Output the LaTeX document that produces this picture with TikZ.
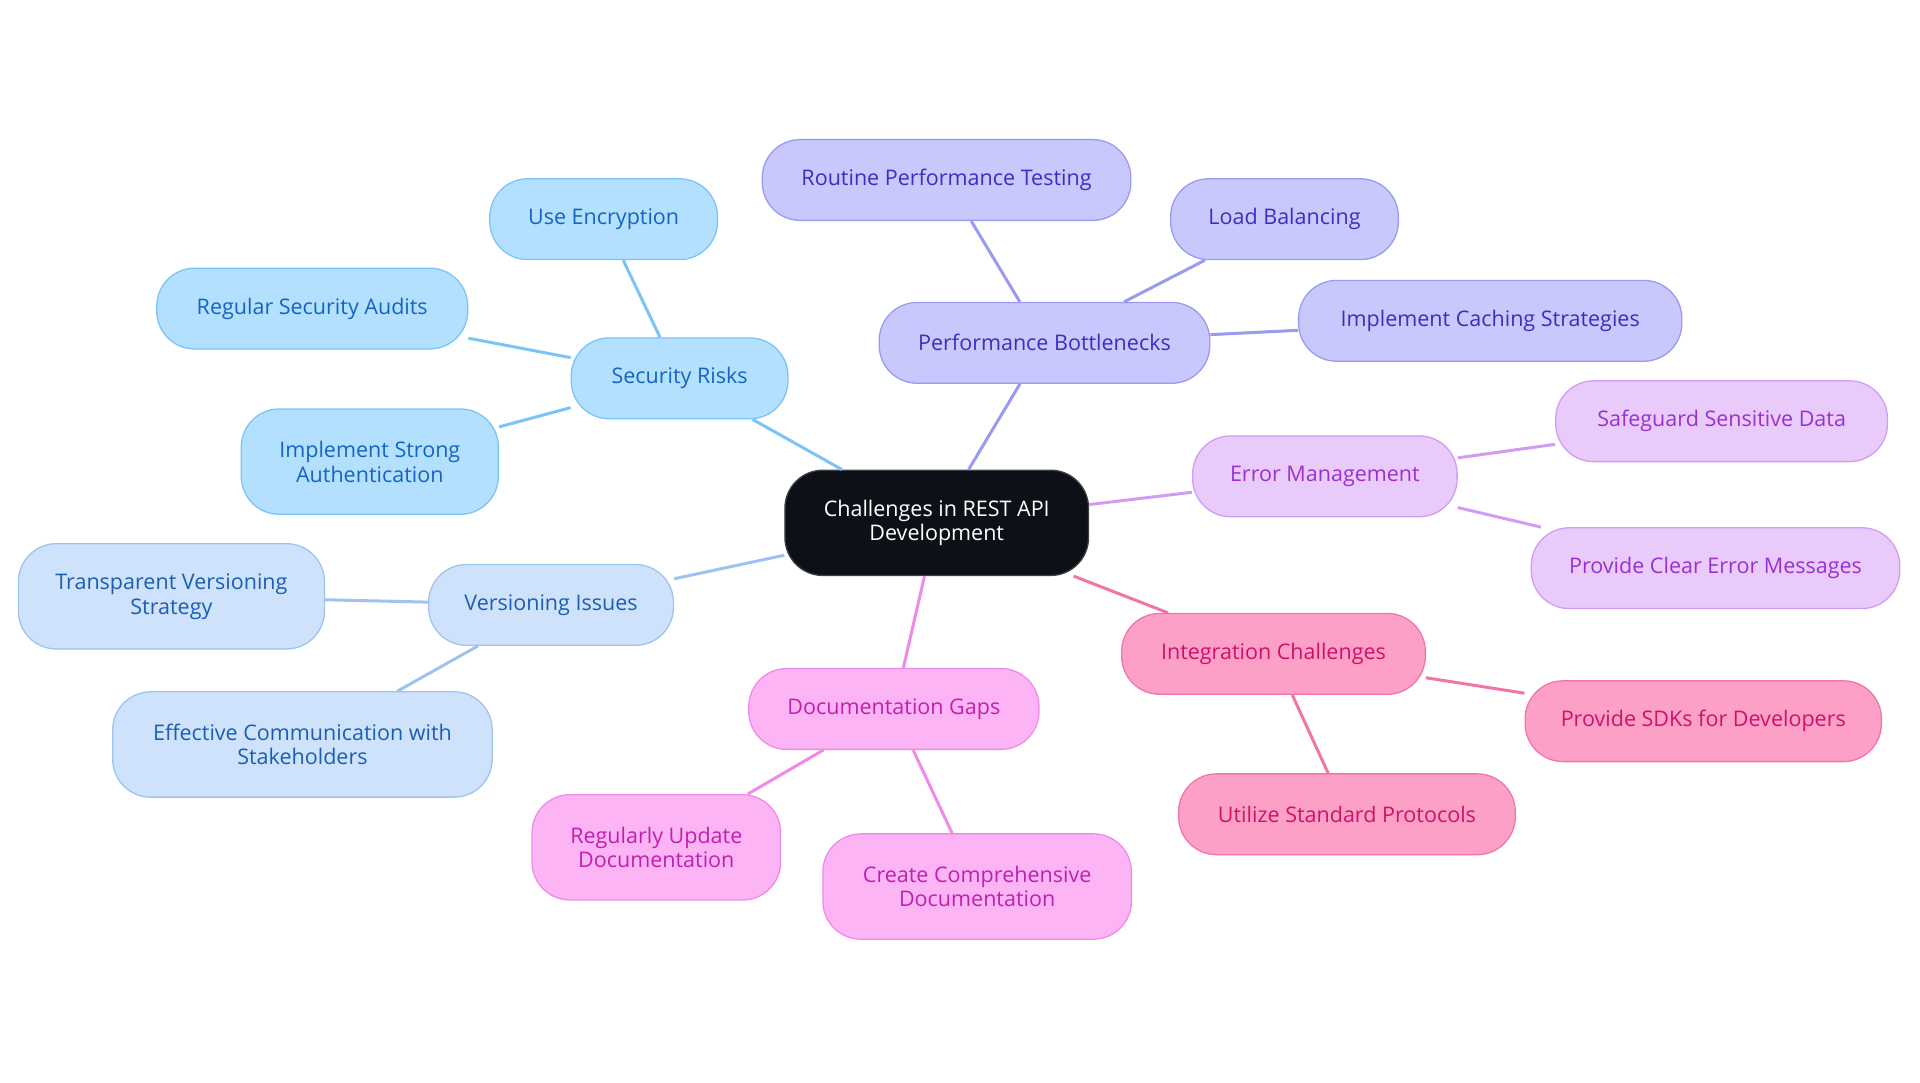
\documentclass[tikz,border=0pt]{standalone}
\usepackage{fontspec}
\setmainfont{Open Sans}
\definecolor{rootfill}{HTML}{0D1117}
\definecolor{secfill}{HTML}{B3E0FF}\definecolor{secline}{HTML}{7CC4F5}\definecolor{sectext}{HTML}{1565C0}
\definecolor{verfill}{HTML}{CFE2FB}\definecolor{verline}{HTML}{9FC3EF}\definecolor{vertext}{HTML}{1A5FB4}
\definecolor{perffill}{HTML}{C8C8FC}\definecolor{perfline}{HTML}{9A9AF0}\definecolor{perftext}{HTML}{3A2FC0}
\definecolor{errfill}{HTML}{E8CBFB}\definecolor{errline}{HTML}{D29CF3}\definecolor{errtext}{HTML}{9B30D0}
\definecolor{intfill}{HTML}{FCA0C8}\definecolor{intline}{HTML}{F075A8}\definecolor{inttext}{HTML}{D0106A}
\definecolor{docfill}{HTML}{FCB4F4}\definecolor{docline}{HTML}{F08AE8}\definecolor{doctext}{HTML}{C020B0}
\tikzset{
  box/.style={draw, rounded corners=0.62cm, align=center, inner sep=0pt, minimum height=1.32cm,
    font=\fontsize{10}{11.5}\selectfont, line width=0.6pt},
  root/.style={box, fill=rootfill, draw=rootfill!80!white, text=white, minimum height=1.72cm},
  sec/.style={box, fill=secfill, draw=secline, text=sectext},
  ver/.style={box, fill=verfill, draw=verline, text=vertext},
  perf/.style={box, fill=perffill, draw=perfline, text=perftext},
  err/.style={box, fill=errfill, draw=errline, text=errtext},
  integ/.style={box, fill=intfill, draw=intline, text=inttext},
  doc/.style={box, fill=docfill, draw=docline, text=doctext},
  tall/.style={minimum height=1.72cm},
}
\begin{document}
\begin{tikzpicture}[x=0.02cm, y=-0.02cm]
			\useasboundingbox (0,0) rectangle (1568,884);
			\node[root, minimum width=4.96cm] (root) at (765,427) {Challenges in REST API\\Development};
			
			\node[sec, minimum width=3.54cm] (sr) at (555,309) {Security Risks};
			\node[sec, minimum width=3.72cm] (enc) at (493,179) {Use Encryption};
			\node[sec, minimum width=5.08cm] (aud) at (255,252) {Regular Security Audits};
			\node[sec, tall, minimum width=4.2cm] (auth) at (302,377) {Implement Strong\\Authentication};
			
			\node[ver, minimum width=4cm] (vi) at (450,494) {Versioning Issues};
			\node[ver, tall, minimum width=5cm] (tvs) at (140,487) {Transparent Versioning\\Strategy};
			\node[ver, tall, minimum width=6.2cm] (ecs) at (247,608) {Effective Communication with\\Stakeholders};
			
			\node[perf, minimum width=5.4cm] (pb) at (853,280) {Performance Bottlenecks};
			\node[perf, minimum width=6.02cm] (rpt) at (773,147) {Routine Performance Testing};
			\node[perf, minimum width=3.72cm] (lb) at (1049,179) {Load Balancing};
			\node[perf, minimum width=6.26cm] (ics) at (1217,262) {Implement Caching Strategies};
			
			\node[err, minimum width=4.32cm] (em) at (1082,389) {Error Management};
			\node[err, minimum width=5.42cm] (ssd) at (1406,344) {Safeguard Sensitive Data};
			\node[err, minimum width=6.02cm] (pcem) at (1401,464) {Provide Clear Error Messages};
			
			\node[integ, minimum width=4.96cm] (ic) at (1040,534) {Integration Challenges};
			\node[integ, minimum width=5.82cm] (sdk) at (1391,589) {Provide SDKs for Developers};
			\node[integ, minimum width=5.5cm] (usp) at (1100,665) {Utilize Standard Protocols};
			
			\node[doc, minimum width=4.74cm] (dg) at (730,579) {Documentation Gaps};
			\node[doc, tall, minimum width=4.06cm] (rud) at (536,692) {Regularly Update\\Documentation};
			\node[doc, tall, minimum width=5.04cm] (ccd) at (798,724) {Create Comprehensive\\Documentation};
			
			\draw[secline, line width=1.4pt] (root)--(sr);
			\draw[secline, line width=1.4pt] (sr)--(enc);
			\draw[secline, line width=1.4pt] (sr)--(aud);
			\draw[secline, line width=1.4pt] (sr)--(auth);
			
			\draw[verline, line width=1.4pt] (root)--(vi);
			\draw[verline, line width=1.4pt] (vi)--(tvs);
			\draw[verline, line width=1.4pt] (vi)--(ecs);
			
			\draw[perfline, line width=1.4pt] (root)--(pb);
			\draw[perfline, line width=1.4pt] (pb)--(rpt);
			\draw[perfline, line width=1.4pt] (pb)--(lb);
			\draw[perfline, line width=1.4pt] (pb)--(ics);
			
			\draw[errline, line width=1.4pt] (root)--(em);
			\draw[errline, line width=1.4pt] (em)--(ssd);
			\draw[errline, line width=1.4pt] (em)--(pcem);
			
			\draw[intline, line width=1.4pt] (root)--(ic);
			\draw[intline, line width=1.4pt] (ic)--(sdk);
			\draw[intline, line width=1.4pt] (ic)--(usp);
			
			\draw[docline, line width=1.4pt] (root)--(dg);
			\draw[docline, line width=1.4pt] (dg)--(rud);
			\draw[docline, line width=1.4pt] (dg)--(ccd);
		\end{tikzpicture}
\end{document}
